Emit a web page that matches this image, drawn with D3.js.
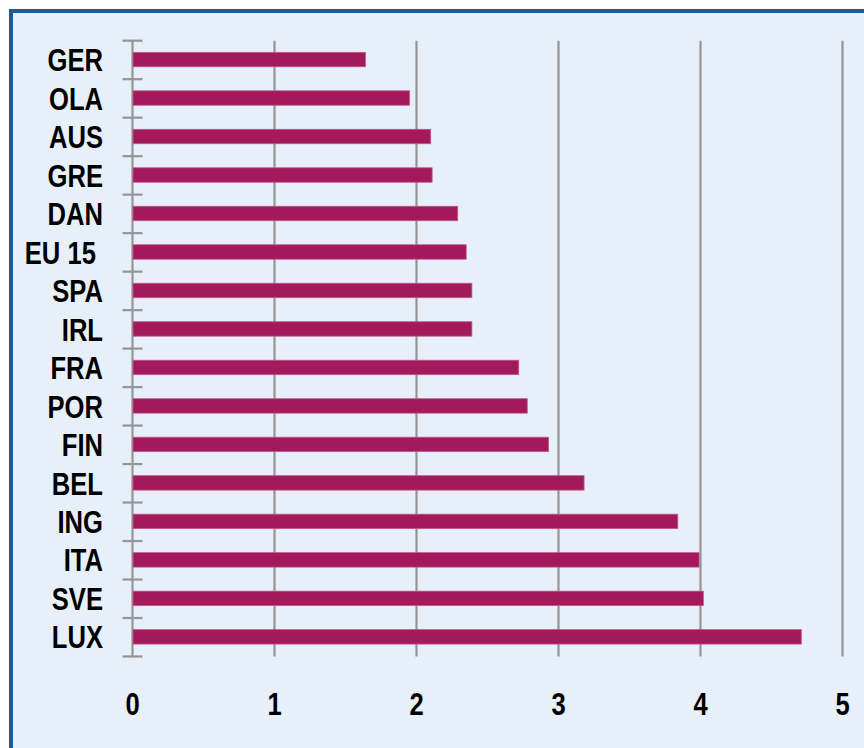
<!DOCTYPE html>
<html><head><meta charset="utf-8">
<script src="https://cdn.jsdelivr.net/npm/d3@7"></script>
<style>
html,body{margin:0;padding:0;background:#fff;}
svg{display:block;}
text{font-family:"Liberation Sans",Arial,sans-serif;font-weight:bold;fill:#000;}
</style></head>
<body>
<svg id="chart" width="864" height="748"></svg>
<script>
const categories = ["GER","OLA","AUS","GRE","DAN","EU 15 ","SPA","IRL","FRA","POR","FIN","BEL","ING","ITA","SVE","LUX"];
const values = [1.64,1.95,2.10,2.11,2.29,2.35,2.39,2.39,2.72,2.78,2.93,3.18,3.84,3.99,4.02,4.71];
const xTicks = [0,1,2,3,4,5];

const svg = d3.select("#chart");
const narrow = 0.8;
// frame
svg.append("rect").attr("x",11).attr("y",11).attr("width",900).attr("height",800)
  .attr("fill","#e7eff9").attr("stroke","#1b5a9c").attr("stroke-width",4);

const x = d3.scaleLinear().domain([0,5]).range([132.5,842.5]);
const y = d3.scaleBand().domain(categories).range([40.7,656.5]).paddingInner(0).paddingOuter(0);
const step = y.step();
const barH = step*0.375;

// gridlines
svg.append("g").selectAll("line").data(xTicks.filter(d=>d>0)).join("line")
  .attr("x1",d=>x(d)).attr("x2",d=>x(d)).attr("y1",40.7).attr("y2",656.5)
  .attr("stroke","#959595").attr("stroke-width",2.2);

// y axis line
svg.append("line").attr("x1",x(0)).attr("x2",x(0)).attr("y1",40.7).attr("y2",656.5)
  .attr("stroke","#959595").attr("stroke-width",2.2);
// y ticks at band boundaries
const bounds = categories.map(c=>y(c)).concat([y(categories[categories.length-1])+step]);
svg.append("g").selectAll("line").data(bounds).join("line")
  .attr("x1",x(0)-10).attr("x2",x(0)+10).attr("y1",d=>d).attr("y2",d=>d)
  .attr("stroke","#959595").attr("stroke-width",2.2);

// bars
svg.append("g").selectAll("rect").data(categories).join("rect")
  .attr("x",x(0)+0.5)
  .attr("y",c=>y(c)+(step-barH)/2-0.4)
  .attr("width",(c,i)=>x(values[i])-x(0)-0.5)
  .attr("height",barH)
  .attr("fill","#a3195b")
  .attr("stroke","#c0578a").attr("stroke-width",0.8);

// category labels
svg.append("g").selectAll("text").data(categories).join("text")
  .attr("transform",c=>`translate(103,${y(c)+step/2+11.2}) scale(${narrow},1)`)
  .attr("text-anchor","end").attr("font-size",32)
  .style("white-space","pre")
  .text(c=>c);

// x tick labels
svg.append("g").selectAll("text").data(xTicks).join("text")
  .attr("transform",d=>`translate(${x(d)},715) scale(${narrow},1)`)
  .attr("text-anchor","middle").attr("font-size",32)
  .text(d=>d);
</script>
</body></html>
